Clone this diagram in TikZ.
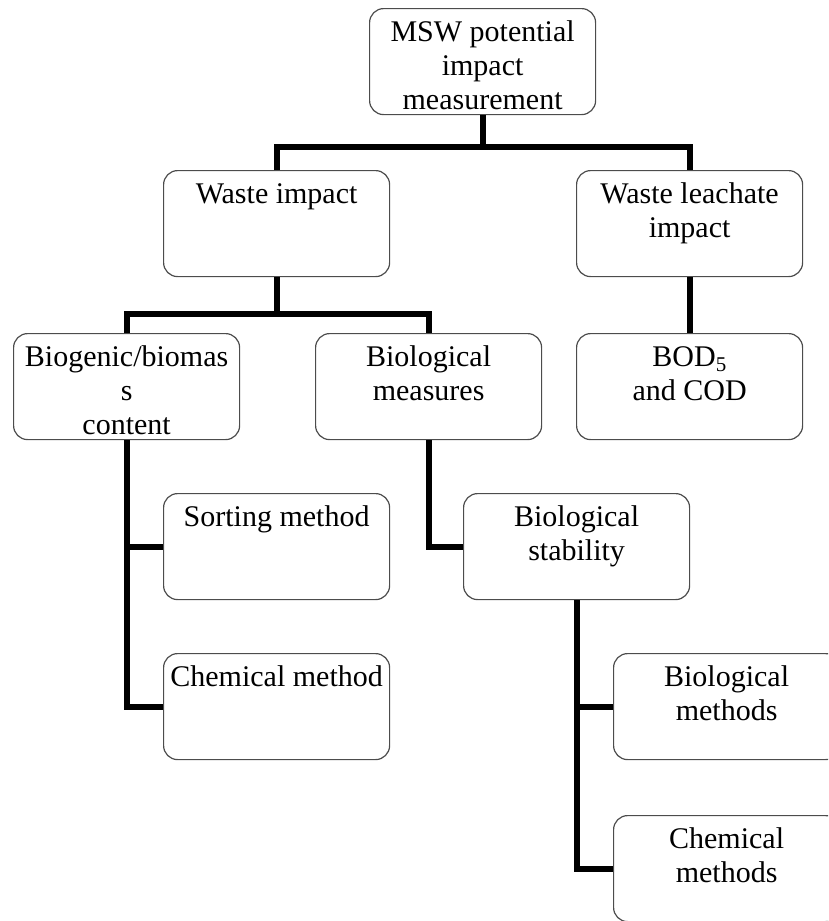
\documentclass[tikz,border=0pt]{standalone}
\usepackage{fontspec}
\setmainfont{Liberation Serif}
\newcommand\bxt[1]{\parbox[c][106pt][t]{224pt}{\centering\fontsize{30}{34}\selectfont\rule{0pt}{33pt}#1\par}}
\begin{document}
\begin{tikzpicture}[x=1pt,y=-1pt,
  box/.style={draw=black!70, line width=1.2pt, rounded corners=14pt, inner sep=0pt,
    minimum width=226pt, minimum height=106pt, anchor=north west},
  conn/.style={line width=6pt, line join=miter, draw=black}]
\useasboundingbox (0,0) rectangle (828,921);
\clip (0,0) rectangle (828,921);
\node[box] (msw) at (369,8) {\bxt{MSW potential\\impact\\measurement}};
\node[box] (waste) at (163,170) {\bxt{Waste impact}};
\node[box] (leach) at (576,170) {\bxt{Waste leachate\\impact}};
\node[box] (bio) at (13,333) {\bxt{Biogenic/biomas\\s\\content}};
\node[box] (bmeas) at (315,333) {\bxt{Biological\\measures}};
\node[box] (bod) at (576,333) {\bxt{BOD\textsubscript{5}\\and COD}};
\node[box] (sort) at (163,493) {\bxt{Sorting method}};
\node[box] (chem) at (163,653) {\bxt{Chemical method}};
\node[box] (stab) at (463,493) {\bxt{Biological\\stability}};
\node[box] (bm) at (613,653) {\bxt{Biological\\methods}};
\node[box] (cm) at (613,815) {\bxt{Chemical\\methods}};
\coordinate (j1) at (msw.south |- 0,147);
\coordinate (j2) at (waste.south |- 0,314);
\draw[conn] (msw.south) -- (j1);
\draw[conn] (waste.north) |- (j1) -| (leach.north);
\draw[conn] (waste.south) -- (j2);
\draw[conn] (bio.north) |- (j2) -| (bmeas.north);
\draw[conn] (leach.south) -- (bod.north);
\draw[conn] (bio.south) |- (sort.west);
\draw[conn] (bio.south) |- (chem.west);
\draw[conn] (bmeas.south) |- (stab.west);
\draw[conn] (stab.south) |- (bm.west);
\draw[conn] (stab.south) |- (cm.west);
\end{tikzpicture}
\end{document}
